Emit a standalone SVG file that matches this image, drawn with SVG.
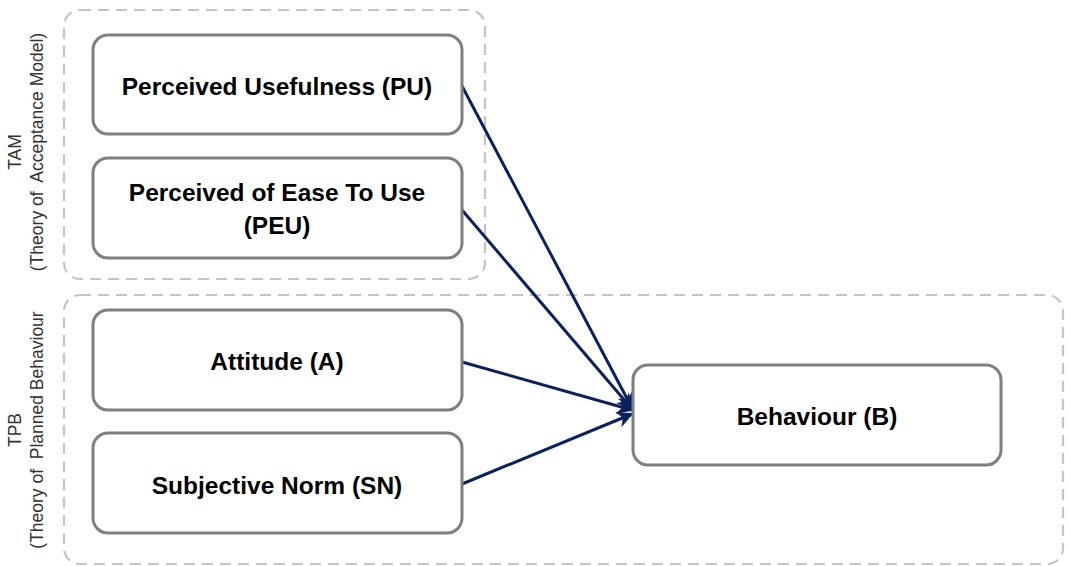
<svg xmlns="http://www.w3.org/2000/svg" width="1068" height="566" viewBox="0 0 1068 566">
<style>
.grp{fill:none;stroke:#c4c4c4;stroke-width:2.2;stroke-dasharray:11 7}
.box{fill:#fff;stroke:#7f7f7f;stroke-width:3}
.t{font-family:"Liberation Sans",Arial,sans-serif;font-weight:bold;font-size:24.5px;fill:#000;text-anchor:middle}
.v{font-family:"Liberation Sans",Arial,sans-serif;font-size:17.5px;fill:#333;text-anchor:middle}
.c{stroke:#0a2160;stroke-width:3;fill:none;marker-end:url(#ah)}
</style>
<defs>
<marker id="ah" viewBox="0 0 10 10" refX="9" refY="5" markerWidth="5.5" markerHeight="5.5" orient="auto" markerUnits="strokeWidth">
<path d="M0,0 L10,5 L0,10 L3,5 z" fill="#0a2160"/>
</marker>
</defs>
<g id="tam-group">
<rect class="grp" x="64" y="10" width="421" height="269" rx="16"/>
<text class="v" transform="translate(21,152) rotate(-90)">TAM</text>
<text class="v" xml:space="preserve" transform="translate(43,152) rotate(-90)">(Theory of  Acceptance Model)</text>
</g>
<g id="tpb-group">
<rect class="grp" x="64" y="295" width="999" height="269" rx="16"/>
<text class="v" transform="translate(21,430) rotate(-90)">TPB</text>
<text class="v" xml:space="preserve" transform="translate(43,430) rotate(-90)">(Theory of  Planned Behaviour</text>
</g>
<g id="connectors">
<line class="c" x1="462" y1="86" x2="632" y2="408"/>
<line class="c" x1="462" y1="210" x2="632" y2="409"/>
<line class="c" x1="462" y1="362" x2="632" y2="410"/>
<line class="c" x1="462" y1="484" x2="632" y2="414"/>
</g>
<g id="pu">
<rect class="box" x="93" y="35" width="369" height="99" rx="15"/>
<text class="t" x="277" y="95">Perceived Usefulness (PU)</text>
</g>
<g id="peu">
<rect class="box" x="93" y="158" width="369" height="100" rx="15"/>
<text class="t" x="277" y="201">Perceived of Ease To Use</text>
<text class="t" x="277" y="234">(PEU)</text>
</g>
<g id="attitude">
<rect class="box" x="93" y="310" width="369" height="100" rx="15"/>
<text class="t" x="277" y="370">Attitude (A)</text>
</g>
<g id="sn">
<rect class="box" x="93" y="433" width="369" height="100" rx="15"/>
<text class="t" x="277" y="494">Subjective Norm (SN)</text>
</g>
<g id="behaviour">
<rect class="box" x="633" y="365" width="368" height="100" rx="15"/>
<text class="t" x="817" y="425">Behaviour (B)</text>
</g>
</svg>
